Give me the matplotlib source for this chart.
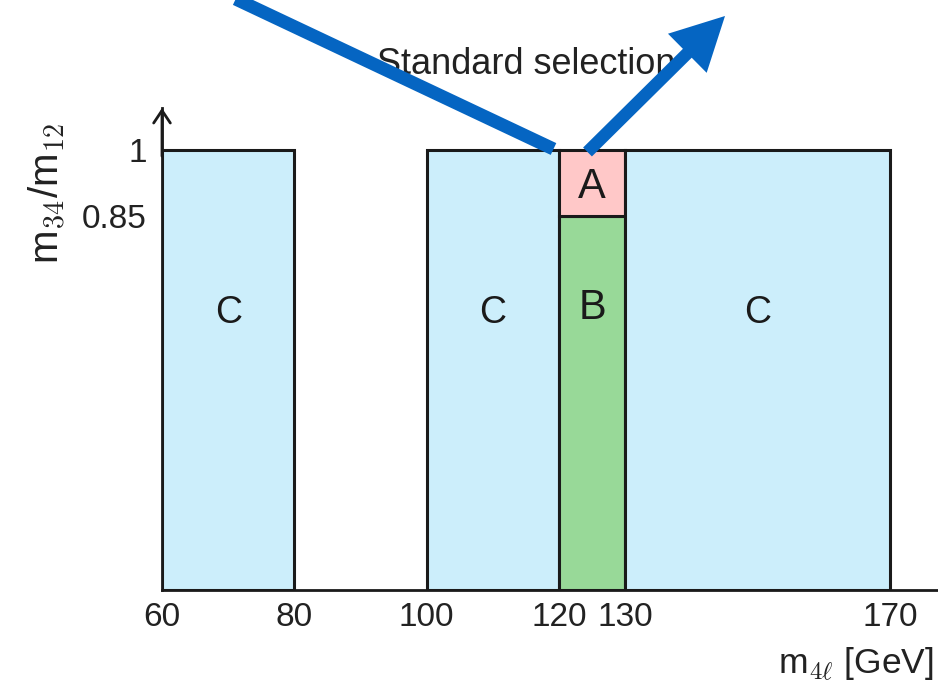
import matplotlib
matplotlib.use("Agg")
import matplotlib.pyplot as plt
from matplotlib.patches import Rectangle, FancyArrow
from matplotlib.lines import Line2D
from matplotlib.transforms import Affine2D

plt.rcParams['font.family'] = ['Liberation Sans', 'DejaVu Sans']
plt.rcParams['mathtext.fontset'] = 'cm'

# ---- data ----
region_labels = ["C", "C", "B", "A", "C"]
region_x0 = [60, 100, 120, 120, 130]
region_x1 = [80, 120, 130, 130, 170]
region_y0 = [0, 0, 0, 0.85, 0]
region_y1 = [1, 1, 0.85, 1, 1]
region_colors = ["#CCEEFB", "#CCEEFB", "#98D998", "#FFC8C8", "#CCEEFB"]
label_y = [0.63, 0.63, 0.64, 0.915, 0.63]
label_size = [27, 27, 30, 30, 27]
xticks = [60, 80, 100, 120, 130, 170]
yticks = [0.85, 1]
ytick_labels = ["0.85", "1"]
title = "Standard selection"
xlabel = r"m$_{4\ell}$ [GeV]"
ylabel = r"m$_{34}$/m$_{12}$"

W, H = 938, 684
fig = plt.figure(figsize=(W / 100, H / 100), dpi=100)

# axes placement in pixels
ax_left, ax_bottom_img, ax_top_img = 162, 590, 108
ax = fig.add_axes([ax_left / W, (H - ax_bottom_img) / H,
                   (W - ax_left) / W, (ax_bottom_img - ax_top_img) / H])
px_per_unit = (890 - 162) / 110.0
ax.set_xlim(60, 60 + (W - ax_left) / px_per_unit)
ax.set_ylim(0, (ax_bottom_img - ax_top_img) / 440.0)

for x0, x1, y0, y1, c in zip(region_x0, region_x1, region_y0, region_y1, region_colors):
    ax.add_patch(Rectangle((x0, y0), x1 - x0, y1 - y0, facecolor=c,
                           edgecolor="#1a1a1a", linewidth=2.2, zorder=2))
for lab, x0, x1, ly, fs in zip(region_labels, region_x0, region_x1, label_y, label_size):
    ax.text((x0 + x1) / 2, ly, lab, ha="center", va="center", fontsize=fs,
            color="#1a1a1a", zorder=3)

for s in ["top", "right"]:
    ax.spines[s].set_visible(False)
for s in ["left", "bottom"]:
    ax.spines[s].set_linewidth(2.0)
    ax.spines[s].set_color("#1a1a1a")
    ax.spines[s].set_zorder(4)

ax.set_xticks(xticks)
ax.set_xticklabels([str(t) for t in xticks])
ax.set_yticks(yticks)
ax.set_yticklabels(ytick_labels)
ax.tick_params(axis="x", length=0, pad=9, labelsize=24, labelcolor="#222222")
ax.tick_params(axis="y", length=0, pad=11, labelsize=24, labelcolor="#222222")

# y-axis arrow head
ax.annotate("", xy=(0, 1.0), xycoords="axes fraction", xytext=(0, 0.9),
            textcoords="axes fraction",
            arrowprops=dict(arrowstyle="->,head_length=0.45,head_width=0.3",
                            lw=2.0, color="#1a1a1a", mutation_scale=20,
                            shrinkA=0, shrinkB=0))

# text labels in figure pixel coordinates
fig.text(526 / W, 1 - 64 / H, title, ha="center", va="center", fontsize=26,
         color="#222222")
fig.text(47 / W, 1 - 193 / H, ylabel, ha="center", va="center", fontsize=29,
         rotation=90, color="#222222")
fig.text(934 / W, 1 - 664 / H, xlabel, ha="right", va="center", fontsize=25.5,
         color="#222222")

# blue arrows (pixel coordinates, y up)
pix = Affine2D().scale(1.0 / W, 1.0 / H) + fig.transFigure
blue = "#0565C2"
l1 = Line2D([553.5, 100], [H - 149, H - (149 - (553.5 - 100) * 0.472)],
            transform=pix, color=blue, lw=9.4, solid_capstyle="butt", zorder=10)
fig.add_artist(l1)
x0, y0 = 587.5, H - 152
x1, y1 = 725, H - 16
arr = FancyArrow(x0, y0, x1 - x0, y1 - y0, width=12.5, head_width=55,
                 head_length=53, length_includes_head=True, color=blue,
                 transform=pix, zorder=10, linewidth=0)
fig.add_artist(arr)

fig.savefig("out.png", dpi=100)
